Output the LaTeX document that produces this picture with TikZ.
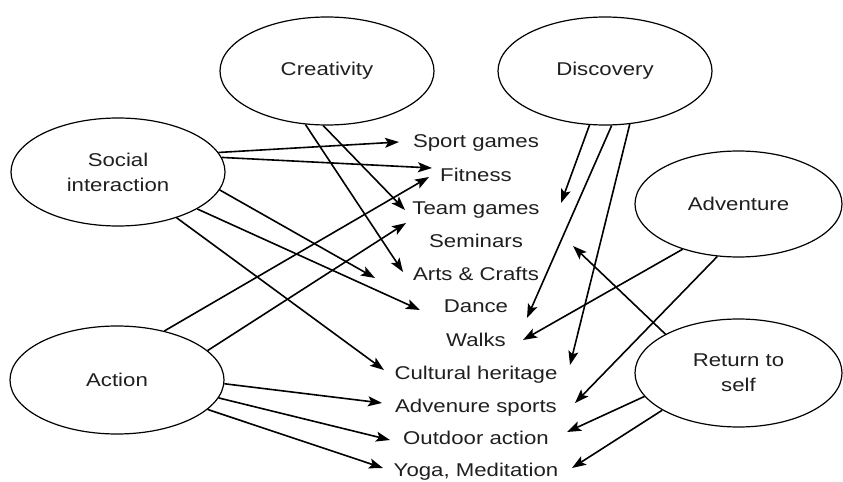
\documentclass[tikz,border=0pt]{standalone}
\usepackage{fontspec}
\setmainfont[FakeStretch=1.2]{Liberation Sans}
\usetikzlibrary{shapes.geometric,arrows.meta}
\begin{document}
\begin{tikzpicture}[x=1bp,y=-1bp,
  bub/.style={draw, ellipse, line width=1.2bp, minimum width=214bp, minimum height=108bp,
    inner sep=0pt, align=center, text=black!88, font=\fontsize{18.5bp}{25bp}\selectfont},
  lab/.style={inner sep=0pt, anchor=base, text=black!88, font=\fontsize{18.5bp}{22bp}\selectfont},
  arr/.style={line width=1.6bp, -{Stealth[length=14bp,width=10bp,inset=3bp]}}]
\useasboundingbox (0,0) rectangle (843,482);

% ellipses
\node[bub] (cre) at (327,71) {Creativity};
\node[bub] (dis) at (605,71) {Discovery};
\node[bub] (soc) at (118,172) {Social\\interaction};
\node[bub, minimum width=207bp, minimum height=106bp] (adv) at (738.5,204) {Adventure};
\node[bub] (act) at (117,380) {Action};
\node[bub, minimum width=207bp] (ret) at (738.5,373) {Return to\\self};

% labels
\node[lab] (sport)  at (476,148) {Sport games};
\node[lab] (fit)    at (476,181.5) {Fitness};
\node[lab] (team)   at (476,215) {Team games};
\node[lab] (sem)    at (476,248) {Seminars};
\node[lab] (arts)   at (476,280.5) {Arts \& Crafts};
\node[lab] (dance)  at (476,313) {Dance};
\node[lab] (walks)  at (476,346) {Walks};
\node[lab] (cult)   at (476,379) {Cultural heritage};
\node[lab] (advsp)  at (476,412) {Advenure sports};
\node[lab] (outd)   at (476,444) {Outdoor action};
\node[lab] (yoga)   at (476,476) {Yoga, Meditation};

% arrow tips (next to the labels)
\coordinate (tS1) at (399,142);
\coordinate (tS2) at (432,168);
\coordinate (tS3) at (375,278);
\coordinate (tS4) at (420,310);
\coordinate (tS5) at (384,370);
\coordinate (tC1) at (405,210);
\coordinate (tC2) at (403,272);
\coordinate (tD1) at (561,203);
\coordinate (tD2) at (527,318);
\coordinate (tD3) at (570,365);
\coordinate (tA1) at (523,340);
\coordinate (tA2) at (575,403);
\coordinate (tR1) at (573,246);
\coordinate (tR2) at (567,432);
\coordinate (tR3) at (572,468);
\coordinate (tK1) at (429,177);
\coordinate (tK2) at (406,223);
\coordinate (tK3) at (382,403);
\coordinate (tK4) at (390,440);
\coordinate (tK5) at (383,468);

% Social interaction
\draw[arr] (soc.11)  -- (tS1);
\draw[arr] (soc.8)   -- (tS2);
\draw[arr] (soc.-10.5) -- (tS3);
\draw[arr] (soc.-25.7) -- (tS4);
\draw[arr] (soc.-38) -- (tS5);
% Creativity
\draw[arr] (cre.-94)  -- (tC1);
\draw[arr] (cre.-112) -- (tC2);
% Discovery
\draw[arr] (dis.-106) -- (tD1);
\draw[arr] (dis.-83)  -- (tD2);
\draw[arr] (dis.-65)  -- (tD3);
% Adventure
\draw[arr] (adv.-141) -- (tA1);
\draw[arr] (adv.-112) -- (tA2);
% Return to self
\draw[arr] (ret.152)  -- (tR1);
\draw[arr] (ret.-166) -- (tR2);
\draw[arr] (ret.-154.6) -- (tR3);
% Action
\draw[arr] (act.46)   -- (tK1);
\draw[arr] (act.18)   -- (tK2);
\draw[arr] (act.-2.6) -- (tK3);
\draw[arr] (act.-10.4) -- (tK4);
\draw[arr] (act.-18.2) -- (tK5);
\end{tikzpicture}
\end{document}
